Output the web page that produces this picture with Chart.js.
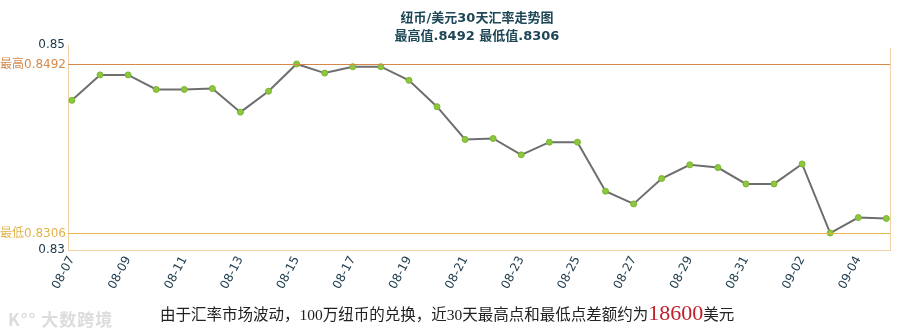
<!DOCTYPE html>
<html>
<head>
<meta charset="utf-8">
<script src="https://cdn.jsdelivr.net/npm/chart.js@4"></script>
<style>
    body { margin: 0; background: #fff; }
    #wrap { position: relative; width: 900px; height: 336px; overflow: hidden; }
    #rate-chart { position: absolute; left: 0; top: 0; }
    #title { position: absolute; left: 22px; top: 9px; width: 910px; text-align: center; color: #1d4656; font: bold 13px "DejaVu Sans", "Noto Sans CJK SC", sans-serif; line-height: 18px; }
    #note { position: absolute; left: 160px; top: 300px; color: #222; font: 15.5px "Liberation Serif", "Noto Sans CJK SC", serif; white-space: nowrap; }
    #note .diff { color: #c0202c; font-size: 22px; }
    #mark { position: absolute; left: 8px; top: 306px; color: #dcdcdc; font: bold 17px "Noto Sans CJK SC", sans-serif; letter-spacing: 1px; }
</style>
</head>
<body>
<div id="wrap">
    <canvas id="rate-chart" width="900" height="336"></canvas>
    <div id="title">纽币/美元30天汇率走势图<br>最高值.8492 最低值.8306</div>
    <div id="note">由于汇率市场波动，100万纽币的兑换，近30天最高点和最低点差额约为<span class="diff">18600</span>美元</div>
    <div id="mark">K°° 大数跨境</div>
</div>
<script>
const dates = ['08-07', '08-08', '08-09', '08-10', '08-11', '08-12', '08-13', '08-14', '08-15', '08-16',
    '08-17', '08-18', '08-19', '08-20', '08-21', '08-22', '08-23', '08-24', '08-25', '08-26',
    '08-27', '08-28', '08-29', '08-30', '08-31', '09-01', '09-02', '09-03', '09-04', '09-05'];
const rates = [0.8452, 0.8480, 0.8480, 0.8464, 0.8464, 0.8465, 0.8439, 0.8462, 0.8492, 0.8482,
    0.8489, 0.8489, 0.8474, 0.8445, 0.8409, 0.8410, 0.8392, 0.8406, 0.8406, 0.8352,
    0.8338, 0.8366, 0.8381, 0.8378, 0.8360, 0.8360, 0.8382, 0.8306, 0.8323, 0.8322];
const highRate = 0.8492;
const lowRate = 0.8306;
const yMin = 0.82873;
const yMax = 0.85129;

// max / min guide lines with their labels left of the axis, plus the frame
const guideLines = {
    id: 'guideLines',
    afterDatasetsDraw(chart) {
        const ctx = chart.ctx;
        const area = chart.chartArea;
        const y = chart.scales.y;
        ctx.save();
        ctx.lineWidth = 1;
        ctx.strokeStyle = '#f2d3a8';
        ctx.beginPath();
        ctx.moveTo(area.right + 0.5, area.top + 3);
        ctx.lineTo(area.right + 0.5, area.bottom);
        ctx.stroke();

        ctx.font = '12px "DejaVu Sans", "Noto Sans CJK SC", sans-serif';
        ctx.textAlign = 'right';
        ctx.textBaseline = 'middle';
        [[highRate, '#d4894c', '最高'], [lowRate, '#e2b44a', '最低']].forEach(([v, color, tag]) => {
            const py = Math.round(y.getPixelForValue(v)) + 0.5;
            ctx.strokeStyle = color;
            ctx.beginPath();
            ctx.moveTo(area.left, py);
            ctx.lineTo(area.right, py);
            ctx.stroke();
            ctx.fillStyle = color;
            ctx.fillText(tag + v.toFixed(4), area.left - 2, py);
        });
        ctx.restore();
    }
};

new Chart(document.getElementById('rate-chart'), {
    type: 'line',
    data: {
        datasets: [{
            data: rates.map((v, i) => ({ x: i, y: v })),
            borderColor: '#6e6e6e',
            borderWidth: 2,
            pointRadius: 3,
            pointBackgroundColor: '#8dc63f',
            pointBorderColor: '#7ab52e',
            pointBorderWidth: 1,
            tension: 0
        }]
    },
    options: {
        responsive: false,
        animation: false,
        layout: { padding: { top: 45, right: 10, bottom: 0, left: 0 } },
        plugins: { legend: { display: false }, tooltip: { enabled: false } },
        scales: {
            x: {
                type: 'linear',
                min: -0.14,
                max: 29.13,
                afterBuildTicks: (scale) => {
                    scale.ticks = dates.map((d, i) => ({ value: i })).filter(t => t.value % 2 == 0);
                },
                afterFit: (scale) => { scale.height = 86; },
                grid: { display: false, drawTicks: false },
                border: { color: '#f2d3a8', width: 1 },
                ticks: {
                    autoSkip: false,
                    minRotation: 62,
                    maxRotation: 62,
                    padding: 4,
                    color: '#1d3a4c',
                    font: { family: 'Verdana, "DejaVu Sans", sans-serif', size: 12 },
                    callback: (v) => dates[v]
                }
            },
            y: {
                min: yMin,
                max: yMax,
                afterBuildTicks: (scale) => {
                    scale.ticks = [{ value: yMin }, { value: yMax }];
                },
                afterFit: (scale) => { scale.width = 68; },
                grid: { display: false, drawTicks: false },
                border: { color: '#f2d3a8', width: 1 },
                ticks: {
                    padding: 3,
                    color: '#1d3a4c',
                    font: { family: 'Verdana, "DejaVu Sans", sans-serif', size: 12 },
                    callback: (v) => v.toFixed(2)
                }
            }
        }
    },
    plugins: [guideLines]
});
</script>
</body>
</html>
